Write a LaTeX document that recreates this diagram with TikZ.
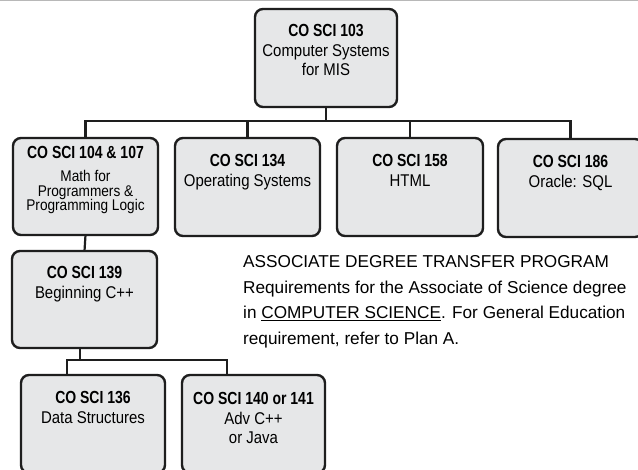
\documentclass[tikz,border=0pt]{standalone}
\usepackage{fontspec}
\setmainfont{Liberation Sans}
\newfontfamily\boxfont{Liberation Sans}[FakeStretch=0.88]
\newfontfamily\titlefont{Liberation Sans}[FakeStretch=0.80]
\usetikzlibrary{calc}
\definecolor{boxgray}{HTML}{E6E7E8}
\definecolor{edgeblk}{HTML}{1E1E1E}
\newcommand\crstitle[1]{{\titlefont\bfseries\fontsize{17.5}{19.5}\selectfont #1}}
\begin{document}
\begin{tikzpicture}[x=1pt,y=-1pt,
  course/.style={draw=edgeblk, fill=boxgray, line width=2.4pt, rounded corners=8pt, inner sep=0pt, outer sep=0pt},
  txt/.style={anchor=base, align=center, inner sep=0pt, font=\boxfont\fontsize{17}{19.5}\selectfont},
  conn/.style={draw=edgeblk, line width=2.2pt},
  ]
\useasboundingbox (0,0) rectangle (638,470);
\fill[white] (0,0) rectangle (638,470);
\draw[line width=1.2pt, draw=black!28] (0,0.6) -- (638,0.6);

% course boxes
\node[course, minimum width=142, minimum height=98] (c103) at (326,58) {};
\node[course, minimum width=145, minimum height=97] (c104) at (85.5,186.5) {};
\node[course, minimum width=145, minimum height=98] (c134) at (247.5,187) {};
\node[course, minimum width=146, minimum height=98] (c158) at (410,187) {};
\node[course, minimum width=145, minimum height=98] (c186) at (570.5,188) {};
\node[course, minimum width=145, minimum height=97] (c139) at (84.5,299.5) {};
\node[course, minimum width=144, minimum height=98] (c136) at (93,424) {};
\node[course, minimum width=143, minimum height=98] (c140) at (253.5,424) {};

% texts (base anchor = baseline of the last line)
\node[txt] (t103) at ($(c103.north)+(0,67)$) {\crstitle{CO SCI 103}\\Computer Systems\\for MIS};
\node[txt, font=\boxfont\fontsize{15.5}{14.8}\selectfont] (t104) at ($(c104.north)+(0,73)$) {\crstitle{CO SCI 104 \& 107}\\[8pt]Math for\\Programmers \&\\Programming Logic};
\node[txt] (t134) at ($(c134.north)+(0,48.5)$) {\crstitle{CO SCI 134}\\Operating Systems};
\node[txt] (t158) at ($(c158.north)+(0,48.5)$) {\crstitle{CO SCI 158}\\HTML};
\node[txt] (t186) at ($(c186.north)+(0,48.5)$) {\crstitle{CO SCI 186}\\Oracle: SQL};
\node[txt] (t139) at ($(c139.north)+(0,47.5)$) {\crstitle{CO SCI 139}\\Beginning C++};
\node[txt] (t136) at ($(c136.north)+(0,48.5)$) {\crstitle{CO SCI 136}\\Data Structures};
\node[txt] (t140) at ($(c140.north)+(0,69)$) {\crstitle{CO SCI 140 or 141}\\Adv C++\\or Java};

% connectors
\coordinate (bus) at (326,121);
\draw[conn] (c103.south) -- (bus);
\draw[conn] (c104.north) |- (bus) -| (c186.north);
\draw[conn] (c134.north) -- (c134.north |- bus);
\draw[conn] (c158.north) -- (c158.north |- bus);
\draw[conn] (c104.south) -- (c139.north);
\coordinate (bus2) at (80,360);
\draw[conn] (c139.south -| bus2) -- (bus2);
\draw[conn] ([xshift=-26pt]c136.north) |- (bus2) -| ([xshift=-26.5pt]c140.north);

% description
\node[anchor=base west, align=left, inner sep=0pt, font=\fontsize{17.2}{25.5}\selectfont] (para) at (243,344.5)
  {ASSOCIATE DEGREE TRANSFER PROGRAM\\Requirements for the Associate of Science degree\\in \underline{COMPUTER SCIENCE}. For General Education\\requirement, refer to Plan A.};
\end{tikzpicture}
\end{document}
